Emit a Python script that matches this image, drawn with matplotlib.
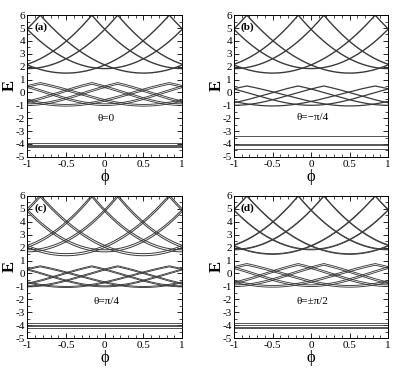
import numpy as np
import matplotlib.pyplot as plt

plt.rcParams['font.family'] = ['Liberation Serif', 'DejaVu Serif']
plt.rcParams['axes.unicode_minus'] = False

# ================== DATA ==================
panel_tags = ["(a)", "(b)", "(c)", "(d)"]
theta_labels = ["θ=0", "θ=−π/4", "θ=π/4", "θ=±π/2"]
theta_y = [-2.0, -1.95, -2.15, -2.15]

# level minima positions (phi) of the two families of bands
fam_centres = [[-0.5, 0.5], [-1.0, 0.0, 1.0]]
# distance (in phi) from a minimum to the band top, per family
fam_halfwidth = [4 / 3, 7 / 6]

# upper band: minimum energy of each family, band top, line splitting
up_emin = [[1.5, 1.85], [1.5, 1.85], [1.45, 1.75], [1.5, 1.85]]
up_top = [6.0, 6.0, 6.0, 6.0]
up_split = [0.0, 0.0, 0.16, 0.05]

# middle band
mid_emin = [[-1.0, -0.95], [-1.05, -1.0], [-1.05, -1.0], [-1.0, -0.95]]
mid_top = [0.7, 0.5, 0.55, 0.7]
mid_split = [0.13, 0.0, 0.08, 0.13]

# lowest band: almost flat levels
flat_levels = [[-3.92, -4.08, -4.15, -4.22],
               [-3.42, -4.0, -4.06, -4.42],
               [-3.86, -3.98, -4.08, -4.2],
               [-3.86, -4.0, -4.12, -4.24]]

# ================== HELPERS ==================
def folded(phi, c, h, emin, top, round_top=0.0):
    # level that rises from its minimum at c to the band top at c +- h
    # and comes back down (shape of a folded band)
    u = np.abs(phi - c) % (2 * h)
    u = np.minimum(u, 2 * h - u) / h
    w = (1 - round_top) * u ** 2 + round_top * np.sin(np.pi * u / 2) ** 2
    return emin + (top - emin) * w

def pair(split):
    return [0.0] if split == 0 else [-split / 2, split / 2]

# ================== FIGURE ==================
fig = plt.figure(figsize=(4.15, 3.69), dpi=100)
boxes = [[0.066, 0.575, 0.373, 0.384],
         [0.564, 0.575, 0.371, 0.384],
         [0.066, 0.084, 0.373, 0.385],
         [0.564, 0.084, 0.371, 0.385]]

phi = np.linspace(-1, 1, 801)
lc = "#3a3a3a"

for i in range(4):
    ax = fig.add_axes(boxes[i])
    for f in range(2):
        for c in fam_centres[f]:
            h = fam_halfwidth[f]
            E = folded(phi, c, h, up_emin[i][f], up_top[i])
            lw = 1.0 if up_split[i] == 0 else 0.7
            for o in pair(up_split[i]):
                ax.plot(phi, E + o, color=lc, lw=lw)
            E = folded(phi, c, h, mid_emin[i][f], mid_top[i], round_top=0.5)
            lw = 0.9 if mid_split[i] == 0 else 0.65
            for o in pair(mid_split[i]):
                ax.plot(phi, E + o, color=lc, lw=lw)
    for e in flat_levels[i]:
        ax.plot(phi, np.full_like(phi, e), color=lc, lw=0.6)

    ax.set_xlim(-1, 1)
    ax.set_ylim(-5, 6)
    ax.set_xticks([-1, -0.5, 0, 0.5, 1])
    ax.set_xticklabels(["-1", "-0.5", "0", "0.5", "1"])
    ax.set_xticks(np.arange(-1, 1.01, 0.1), minor=True)
    ax.set_yticks(range(-5, 7))
    ax.set_yticks(np.arange(-5, 6.01, 0.5), minor=True)
    ax.tick_params(which="both", direction="in", top=True, right=True,
                   labelsize=8, pad=1.5)
    ax.tick_params(axis="x", which="major", pad=2.5)
    ax.tick_params(which="major", length=3.5, width=0.6)
    ax.tick_params(which="minor", length=2, width=0.5)
    for sp in ax.spines.values():
        sp.set_linewidth(0.7)
    ax.set_xlabel("ϕ", fontsize=12, labelpad=0)
    ax.set_ylabel("E", fontsize=12, fontweight="bold", va="center")
    ax.yaxis.set_label_coords(-0.115, 0.5)
    ax.text(0.045, 0.95, panel_tags[i], transform=ax.transAxes, fontsize=8,
            fontweight="bold", va="top", ha="left")
    ax.text(0.02, theta_y[i], theta_labels[i], fontsize=8, ha="center", va="center")

fig.savefig("out.png", dpi=100)
